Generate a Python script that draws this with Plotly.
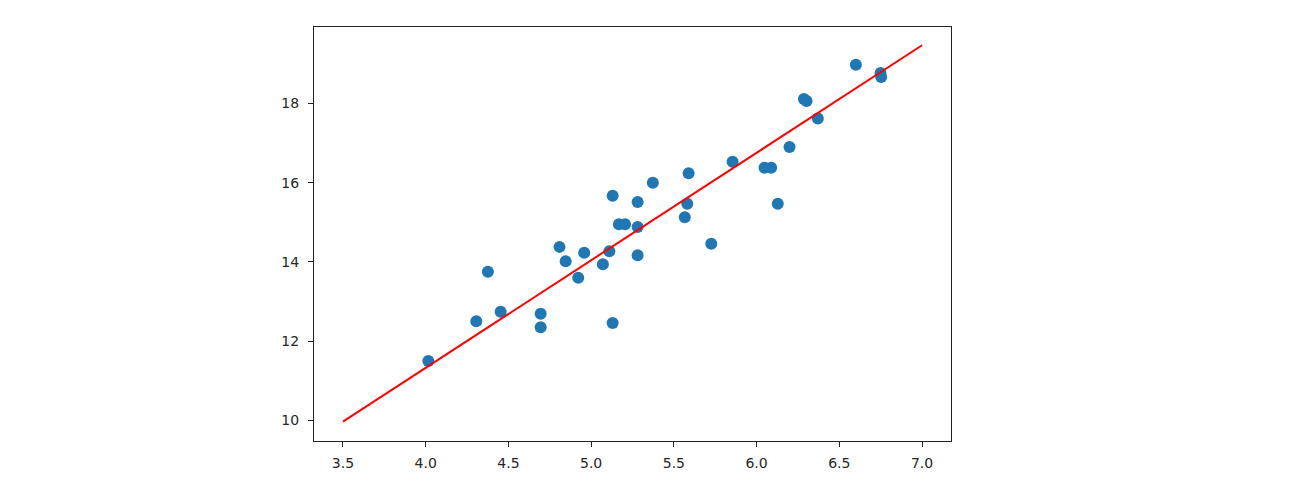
import plotly.graph_objects as go

# Scatter data
x_vals = [4.016, 4.306, 4.376, 4.453, 4.695, 4.695, 4.809, 4.846, 4.922, 4.958,
          5.071, 5.110, 5.130, 5.130, 5.168, 5.205, 5.281, 5.281, 5.281, 5.373,
          5.566, 5.581, 5.589, 5.726, 5.855, 6.048, 6.088, 6.128, 6.199, 6.286,
          6.302, 6.370, 6.600, 6.749, 6.753]
y_vals = [11.50, 12.50, 13.75, 12.74, 12.69, 12.35, 14.38, 14.02, 13.60, 14.23,
          13.94, 14.27, 12.46, 15.67, 14.95, 14.95, 15.51, 14.88, 14.17, 16.00,
          15.13, 15.47, 16.24, 14.46, 16.53, 16.38, 16.38, 15.47, 16.90, 18.11,
          18.06, 17.62, 18.98, 18.77, 18.67]

# Fitted line endpoints
line_x = [3.5, 7.0]
line_y = [9.97, 19.47]

x_ticks = [3.5, 4.0, 4.5, 5.0, 5.5, 6.0, 6.5, 7.0]
y_ticks = [10, 12, 14, 16, 18]

fig = go.Figure()
fig.add_trace(go.Scatter(x=x_vals, y=y_vals, mode="markers",
                         marker=dict(color="#1f77b4", size=12, line=dict(width=0)),
                         showlegend=False))
fig.add_trace(go.Scatter(x=line_x, y=line_y, mode="lines",
                         line=dict(color="#ff0000", width=2),
                         showlegend=False))

axis_common = dict(showgrid=False, zeroline=False, showline=True, linecolor="#222222",
                   linewidth=1, mirror=True, ticks="outside", ticklen=5,
                   tickcolor="#222222", tickwidth=1,
                   tickfont=dict(family="DejaVu Sans", size=14, color="#262626"))

fig.update_layout(
    width=1293, height=498,
    margin=dict(l=306, r=350, t=19, b=65),
    paper_bgcolor="white", plot_bgcolor="white",
    xaxis=dict(range=[3.325, 7.175], tickvals=x_ticks,
               ticktext=[f"{v:.1f}" for v in x_ticks], ticklabelstandoff=4,
               **axis_common),
    yaxis=dict(range=[9.48, 19.93], tickvals=y_ticks,
               ticktext=[str(v) for v in y_ticks], ticklabelstandoff=6,
               **axis_common),
)

fig.write_html("out.html")
